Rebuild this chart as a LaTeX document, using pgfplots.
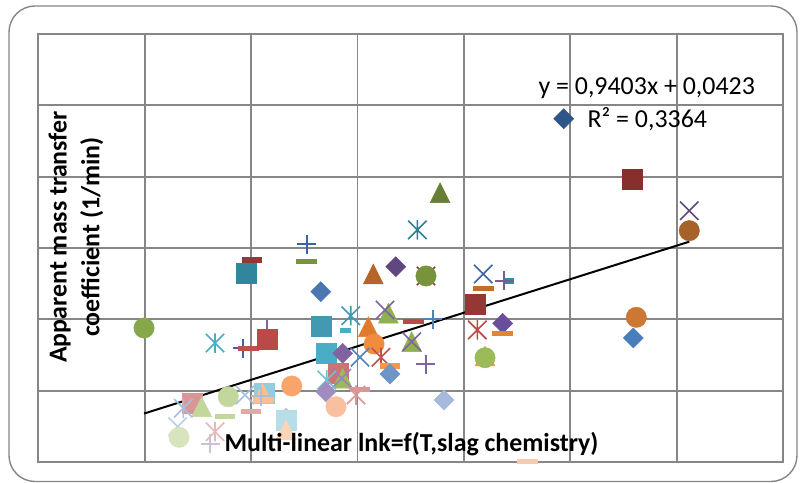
\documentclass[border=0pt]{standalone}
\usepackage{pgfplots}
\pgfplotsset{compat=1.18}
\usepackage{fontspec}
\setmainfont{Carlito}
\usetikzlibrary{plotmarks}

\pgfdeclareplotmark{xstar}{%
 \pgfpathmoveto{\pgfqpoint{-0.7071\pgfplotmarksize}{-0.7071\pgfplotmarksize}}%
 \pgfpathlineto{\pgfqpoint{0.7071\pgfplotmarksize}{0.7071\pgfplotmarksize}}%
 \pgfpathmoveto{\pgfqpoint{-0.7071\pgfplotmarksize}{0.7071\pgfplotmarksize}}%
 \pgfpathlineto{\pgfqpoint{0.7071\pgfplotmarksize}{-0.7071\pgfplotmarksize}}%
 \pgfpathmoveto{\pgfqpoint{0pt}{-0.75\pgfplotmarksize}}%
 \pgfpathlineto{\pgfqpoint{0pt}{0.75\pgfplotmarksize}}%
 \pgfusepathqstroke}

\definecolor{gridgray}{HTML}{868686}
\definecolor{gA}{HTML}{86A84B}
\definecolor{aq}{HTML}{4BACC6}
\definecolor{dblue}{HTML}{3B64A0}
\definecolor{red}{HTML}{C0504D}
\definecolor{redm}{HTML}{B94A48}
\definecolor{dteal}{HTML}{31859C}
\definecolor{dred}{HTML}{953735}
\definecolor{olive}{HTML}{77933C}
\definecolor{blue2}{HTML}{4A76B2}
\definecolor{aq2}{HTML}{4199B2}
\definecolor{purple}{HTML}{8064A2}
\definecolor{oranget}{HTML}{E07B2E}
\definecolor{orangec}{HTML}{F08C40}
\definecolor{blue}{HTML}{4F81BD}
\definecolor{orange}{HTML}{F79646}
\definecolor{blueL}{HTML}{6E95C8}
\definecolor{green}{HTML}{9BBB59}
\definecolor{green2}{HTML}{8EB04E}
\definecolor{redL1}{HTML}{CD7371}
\definecolor{purpleL1}{HTML}{9A80C0}
\definecolor{aqL1}{HTML}{72C0D4}
\definecolor{purpleL2}{HTML}{A08CC0}
\definecolor{redL2}{HTML}{D99694}
\definecolor{peach}{HTML}{F9C0A0}
\definecolor{blueL2}{HTML}{A5B9DC}
\definecolor{oliveD}{HTML}{687E34}
\definecolor{tealD}{HTML}{2E7F90}
\definecolor{brownT}{HTML}{B5652A}
\definecolor{purpleD}{HTML}{5F4780}
\definecolor{orangeD}{HTML}{C0702C}
\definecolor{teal2}{HTML}{2E8FA0}
\definecolor{purple2}{HTML}{7A5B9A}
\definecolor{purple3}{HTML}{6B4E9B}
\definecolor{orange3}{HTML}{E08436}
\definecolor{redDD}{HTML}{862F2C}
\definecolor{purpleDD}{HTML}{5F497A}
\definecolor{brown}{HTML}{A5622A}
\definecolor{orange4}{HTML}{CC7733}
\definecolor{blue4}{HTML}{4A7EBB}
\definecolor{peach2}{HTML}{F8CBB0}
\definecolor{navy}{HTML}{2F5688}
\definecolor{greenL}{HTML}{C3D69B}
\definecolor{blueLL}{HTML}{A6BEE0}
\definecolor{redLL}{HTML}{E0A8A8}
\definecolor{blueLLL}{HTML}{B9CDE5}
\definecolor{greenLL}{HTML}{D7E4BD}
\definecolor{redLLL}{HTML}{E6B9B8}
\definecolor{purpleLL}{HTML}{CCC1DA}
\definecolor{aqL}{HTML}{93CDDD}
\definecolor{orangeL}{HTML}{FAC090}
\definecolor{orangeL2}{HTML}{F9A46A}
\definecolor{aqLL}{HTML}{B7DDE8}
\definecolor{peachL}{HTML}{FBD5B5}

\pgfplotsset{
 dia/.style={only marks, mark=square*, mark size=7.1bp, mark options={rotate=45}},
 sqr/.style={only marks, mark=square*, mark size=10bp},
 tri/.style={only marks, mark=triangle*, mark size=11.5bp, mark options={yshift=-3.3bp, yscale=1.155}},
 cir/.style={only marks, mark=*, mark size=10.2bp},
 xx/.style={only marks, mark=x, mark size=13bp, line width=1.6bp},
 ast/.style={only marks, mark=xstar, mark size=13bp, line width=1.6bp},
 pls/.style={only marks, mark=+, mark size=9.5bp, line width=1.8bp},
 dsh/.style={only marks, mark=-, mark size=10.3bp, line width=5.2bp},
 sdsh/.style={only marks, mark=-, mark size=5.5bp, line width=5.2bp},
}

\begin{document}
\begin{tikzpicture}[x=1bp,y=1bp]
\path[use as bounding box] (0,0) rectangle (800,483);
\draw[rounded corners=26bp, draw=gridgray, line width=1.4bp] (9,1.5) rectangle (797,477);
\begin{axis}[
 at={(38.3bp,21bp)}, anchor=south west,
 scale only axis, width=744.7bp, height=428bp,
 xmin=0, xmax=0.7, ymin=0, ymax=1.2,
 xtick={0,0.1,0.2,0.3,0.4,0.5,0.6,0.7},
 ytick={0,0.2,0.4,0.6,0.8,1.0,1.2},
 xticklabels={}, yticklabels={}, major tick length=0,
 grid=major, grid style={draw=gridgray, line width=1.8bp},
 axis line style={draw=gridgray, line width=1.8bp},
 clip=false,
]
% light lower-left cluster
\addplot[xx, color=blueLLL] coordinates {(0.1310,0.0990)};
\addplot[cir, color=greenLL] coordinates {(0.1323,0.0693)};
\addplot[ast, color=redLLL] coordinates {(0.1661,0.0850)};
\addplot[pls, color=purpleLL] coordinates {(0.1614,0.0505)};
\addplot[sqr, color=redL2] coordinates {(0.1442,0.1646)};
\addplot[tri, color=greenL] coordinates {(0.1536,0.1550)};
\addplot[ast, color=blueLL] coordinates {(0.1363,0.1506)};
\addplot[dsh, color=greenL] coordinates {(0.1755,0.1270)};
\addplot[cir, color=greenL] coordinates {(0.1786,0.1831)};
\addplot[xx, color=blueLL] coordinates {(0.1943,0.1878)};
\addplot[dsh, color=redLL] coordinates {(0.1999,0.1410)};
\addplot[sqr, color=aqL] coordinates {(0.2122,0.1935)};
\addplot[tri, color=orangeL] coordinates {(0.2109,0.1926)};
\addplot[dsh, color=orangeL] coordinates {(0.2115,0.1758)};
\addplot[pls, color=blueLL] coordinates {(0.2091,0.1850)};
\addplot[cir, color=orangeL2] coordinates {(0.2382,0.2131)};
\addplot[dia, color=purpleLL] coordinates {(0.2328,0.1234)};
\addplot[sqr, color=aqLL] coordinates {(0.2326,0.1178)};
\addplot[tri, color=peachL] coordinates {(0.2328,0.0897)};
% left and middle
\addplot[cir, color=gA] coordinates {(0.0994,0.3757)};
\addplot[ast, color=aq] coordinates {(0.1661,0.3336)};
\addplot[pls, color=dblue] coordinates {(0.1924,0.3196)};
\addplot[dsh, color=red] coordinates {(0.1974,0.3177)};
\addplot[pls, color=purple] coordinates {(0.2150,0.3701)};
\addplot[sqr, color=redm] coordinates {(0.2153,0.3440)};
\addplot[dsh, color=dred] coordinates {(0.2009,0.5663)};
\addplot[sqr, color=dteal] coordinates {(0.1952,0.5307)};
\addplot[pls, color=dblue] coordinates {(0.2523,0.6104)};
\addplot[dsh, color=olive] coordinates {(0.2523,0.5627)};
\addplot[dia, color=blue2] coordinates {(0.2655,0.4775)};
\addplot[sqr, color=aq2] coordinates {(0.2655,0.3821)};
\addplot[sdsh, color=aq] coordinates {(0.2883,0.3681)};
\addplot[ast, color=aq2] coordinates {(0.2937,0.4102)};
\addplot[tri, color=green2] coordinates {(0.3290,0.4169)};
\addplot[xx, color=purple] coordinates {(0.3259,0.4262)};
\addplot[dsh, color=redm] coordinates {(0.3525,0.3934)};
\addplot[pls, color=blue] coordinates {(0.3707,0.4001)};
\addplot[tri, color=oranget] coordinates {(0.3102,0.3793)};
\addplot[cir, color=orangec] coordinates {(0.3156,0.3308)};
\addplot[sqr, color=aq] coordinates {(0.2704,0.3048)};
\addplot[dia, color=purple] coordinates {(0.2861,0.3048)};
\addplot[xx, color=blue] coordinates {(0.3024,0.2935)};
\addplot[ast, color=red] coordinates {(0.3221,0.2935)};
\addplot[dsh, color=orange] coordinates {(0.3306,0.2692)};
\addplot[dia, color=blueL] coordinates {(0.3306,0.2467)};
\addplot[tri, color=green2] coordinates {(0.3510,0.3373)};
\addplot[xx, color=purple] coordinates {(0.3510,0.3373)};
\addplot[pls, color=purple] coordinates {(0.3644,0.2739)};
\addplot[sqr, color=redL1] coordinates {(0.2820,0.2487)};
\addplot[tri, color=green] coordinates {(0.2861,0.2347)};
\addplot[xx, color=purpleL1] coordinates {(0.2852,0.2347)};
\addplot[ast, color=aqL1] coordinates {(0.2711,0.2299)};
\addplot[dia, color=purpleL2] coordinates {(0.2704,0.1971)};
\addplot[dsh, color=redL2] coordinates {(0.3024,0.2038)};
\addplot[ast, color=redL2] coordinates {(0.2986,0.1878)};
\addplot[cir, color=peach] coordinates {(0.2798,0.1550)};
\addplot[dia, color=blueL2] coordinates {(0.3814,0.1738)};
% upper middle
\addplot[tri, color=oliveD] coordinates {(0.3776,0.7550)};
\addplot[ast, color=tealD] coordinates {(0.3563,0.6505)};
\addplot[tri, color=brownT] coordinates {(0.3149,0.5271)};
\addplot[dia, color=purpleD] coordinates {(0.3360,0.5476)};
\addplot[xx, color=dred] coordinates {(0.3644,0.5215)};
\addplot[cir, color=olive] coordinates {(0.3644,0.5215)};
\addplot[xx, color=dblue] coordinates {(0.4183,0.5271)};
\addplot[dsh, color=orangeD] coordinates {(0.4183,0.4870)};
\addplot[sdsh, color=teal2] coordinates {(0.4420,0.5075)};
\addplot[pls, color=purple2] coordinates {(0.4380,0.5075)};
\addplot[sqr, color=dred] coordinates {(0.4105,0.4421)};
\addplot[ast, color=redm] coordinates {(0.4127,0.3701)};
\addplot[dia, color=purple3] coordinates {(0.4365,0.3889)};
\addplot[dsh, color=orange3] coordinates {(0.4365,0.3597)};
\addplot[tri, color=orange] coordinates {(0.4199,0.2972)};
\addplot[cir, color=green] coordinates {(0.4199,0.2924)};
% right side
\addplot[sqr, color=redDD] coordinates {(0.5584,0.7926)};
\addplot[xx, color=purpleDD] coordinates {(0.6119,0.7046)};
\addplot[cir, color=brown] coordinates {(0.6119,0.6485)};
\addplot[cir, color=orange4] coordinates {(0.5621,0.4057)};
\addplot[dia, color=blue4] coordinates {(0.5593,0.3477)};
\addplot[dsh, color=peach2] coordinates {(0.4600,0.0008)};
\addplot[dia, color=navy] coordinates {(0.4939,0.9625)};
% linear trendline y = 0.9403x + 0.0423
\addplot[black, line width=2bp, no marks] coordinates {(0.0994,0.1358) (0.6119,0.6177)};
\end{axis}
\node[anchor=base west, font=\fontsize{26}{30}\selectfont] at (535,388) {y = 0,9403x + 0,0423};
\node[anchor=base west, font=\fontsize{26}{30}\selectfont] at (584,355.3) {R² = 0,3364};
\node[rotate=90, align=center, font=\bfseries\fontsize{26}{33}\selectfont] at (76,246) {Apparent mass transfer\\coefficient (1/min)};
\node[anchor=base, font=\bfseries\fontsize{26}{30}\selectfont] at (411.5,31) {Multi-linear lnk=f(T,slag chemistry)};
\end{tikzpicture}
\end{document}
